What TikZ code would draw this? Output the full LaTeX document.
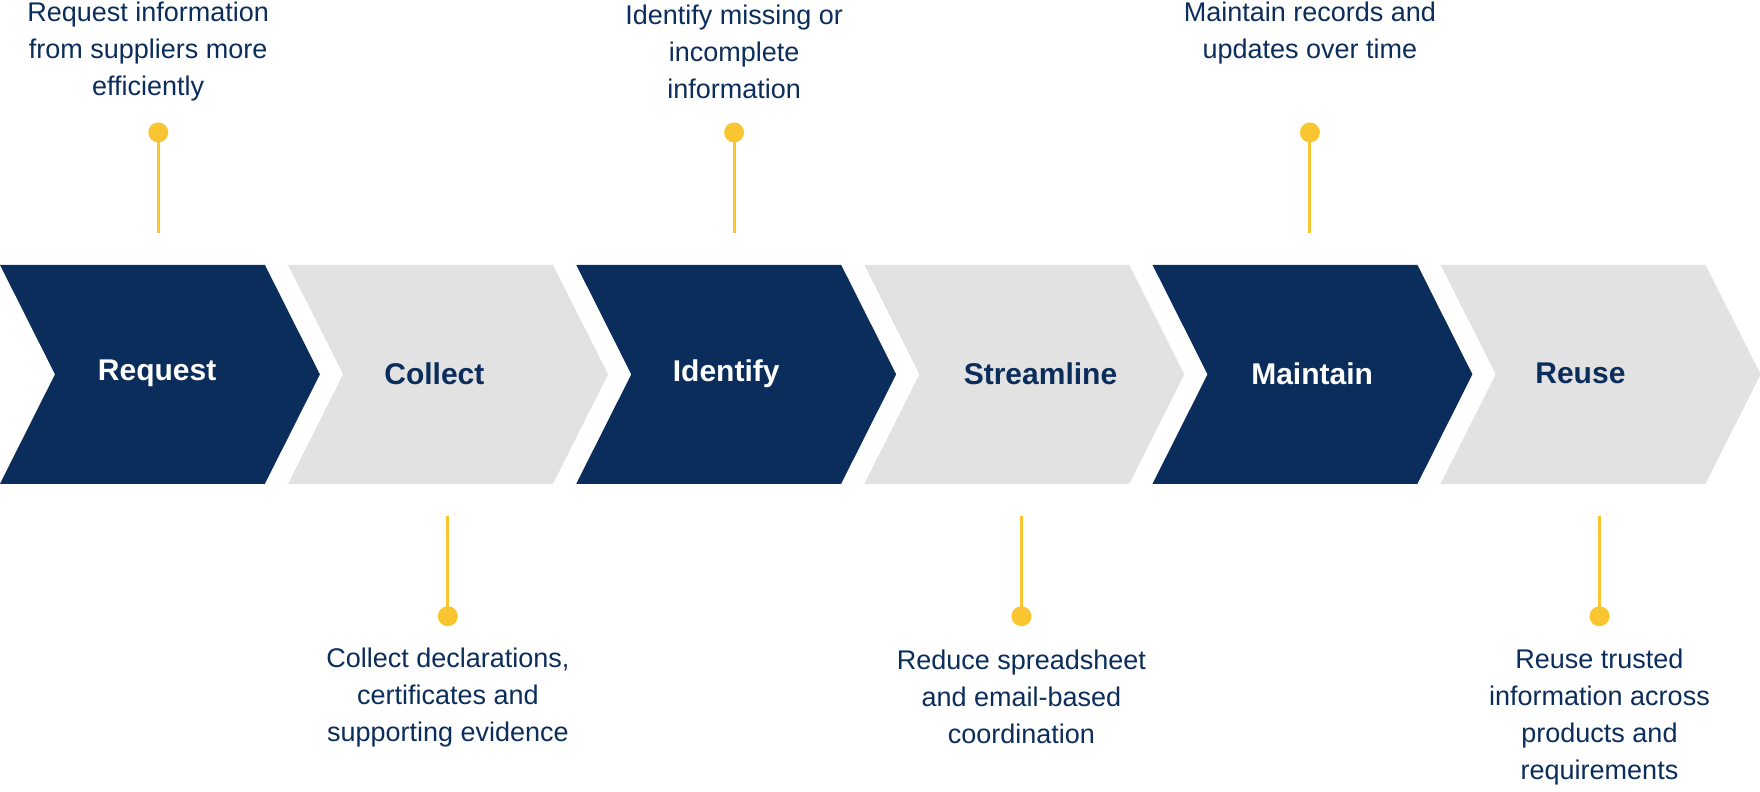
\documentclass[tikz,border=0pt]{standalone}
\usepackage{fontspec}
\setmainfont{Liberation Sans}
\definecolor{navy}{HTML}{0B2D5B}
\definecolor{lgray}{HTML}{E2E2E2}
\definecolor{pin}{HTML}{F9C530}
\begin{document}
\begin{tikzpicture}[x=1.1224pt,y=-1.1224pt,
  lab/.style={font=\fontsize{30}{36}\selectfont\bfseries},
  desc/.style={font=\fontsize{27}{37}\selectfont, text=navy, align=center, inner sep=0},
  pinline/.style={draw=pin, line width=3pt},
  pindot/.style={circle, fill=pin, minimum size=20pt, inner sep=0}]
\useasboundingbox (0,0) rectangle (1568,705);
\foreach \i/\name/\col/\tc in {0/Request/navy/white,1/Collect/lgray/navy,2/Identify/navy/white,3/Streamline/lgray/navy,4/Maintain/navy/white,5/Reuse/lgray/navy}{
  \pgfmathsetmacro{\xx}{256.7*\i}
  \fill[\col] (\xx,236) -- (\xx+236,236) -- (\xx+285,333.5) -- (\xx+236,431) -- (\xx,431) -- (\xx+49,333.5) -- cycle;
}
\node[lab,text=white] (n1) at (140,333) {Request};
\node[lab,text=navy] (n2) at (387,333) {Collect};
\node[lab,text=white] (n3) at (647,333) {Identify};
\node[lab,text=navy] (n4) at (927,333) {Streamline};
\node[lab,text=white] (n5) at (1169,333) {Maintain};
\node[lab,text=navy] (n6) at (1408,333) {Reuse};
% top pins
\foreach \x/\k in {141/a,654/b,1167/c}{
  \coordinate (e\k) at (\x,208);
  \node[pindot] (d\k) at (\x,118) {};
  \draw[pinline] (d\k.center) -- (e\k);
}
\foreach \x/\k in {399/d,910/e,1425/f}{
  \coordinate (e\k) at (\x,460);
  \node[pindot] (d\k) at (\x,549) {};
  \draw[pinline] (d\k.center) -- (e\k);
}
\node[desc] (t1) at (132,46) {Request information\\from suppliers more\\efficiently};
\node[desc] (t3) at (654,46) {Identify missing or\\incomplete\\information};
\node[desc] (t5) at (1167,29.5) {Maintain records and\\updates over time};
\node[desc] (t2) at (399,621) {Collect declarations,\\certificates and\\supporting evidence};
\node[desc] (t4) at (910,621) {Reduce spreadsheet\\and email-based\\coordination};
\node[desc] (t6) at (1425,638.5) {Reuse trusted\\information across\\products and\\requirements};
\end{tikzpicture}
\end{document}
